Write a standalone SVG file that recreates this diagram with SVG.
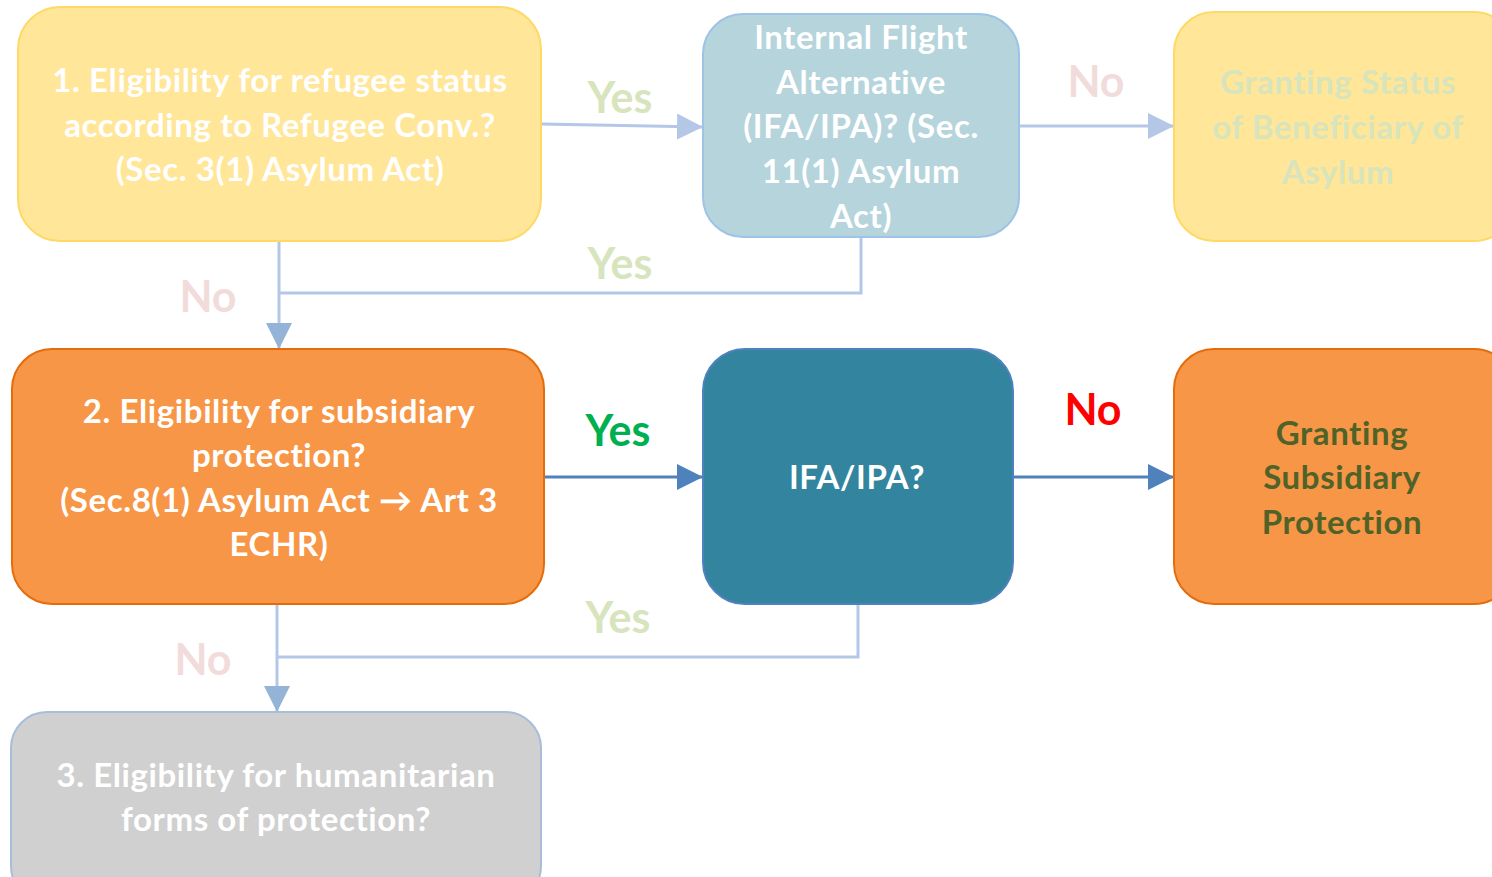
<svg xmlns="http://www.w3.org/2000/svg" width="1492" height="877" viewBox="0 0 1492 877">
<defs>
<marker id="ap" markerUnits="userSpaceOnUse" markerWidth="28" markerHeight="28" refX="26" refY="13" orient="auto"><path d="M0,0 L26,13 L0,26 Z" fill="#B4C7E7"/></marker>
<marker id="ap2" markerUnits="userSpaceOnUse" markerWidth="28" markerHeight="28" refX="26" refY="13" orient="auto"><path d="M0,0 L26,13 L0,26 Z" fill="#95B3D7"/></marker>
<marker id="ad" markerUnits="userSpaceOnUse" markerWidth="28" markerHeight="28" refX="26" refY="13" orient="auto"><path d="M0,0 L26,13 L0,26 Z" fill="#4F81BD"/></marker>
</defs>
<style>
text{font-family:Lato,"Open Sans","DejaVu Sans",sans-serif;font-weight:bold;text-anchor:middle}
.bt{font-size:33px;fill:#fff;letter-spacing:0.6px}
.lbl{font-size:43px}
.pale{stroke:#B4C7E7;stroke-width:3;fill:none}
.dark{stroke:#4F81BD;stroke-width:3;fill:none}
</style>
<rect width="1492" height="877" fill="#fff"/>
<g id="connectors">
<path class="pale" d="M541,124 L703,127" marker-end="url(#ap)"/>
<path class="pale" d="M1019,126 L1174,126" marker-end="url(#ap)"/>
<path class="pale" d="M279,241 L279,349" marker-end="url(#ap2)"/>
<path class="pale" d="M861,237 L861,293 L279,293"/>
<path class="dark" d="M544,477 L703,477" marker-end="url(#ad)"/>
<path class="dark" d="M1013,477 L1174,477" marker-end="url(#ad)"/>
<path class="pale" d="M277,604 L277,712" marker-end="url(#ap2)"/>
<path class="pale" d="M858,604 L858,657 L277,657"/>
<text class="lbl" x="620" y="113" fill="#D7E4BD">Yes</text>
<text class="lbl" x="1096" y="97" fill="#F2DCDB">No</text>
<text class="lbl" x="620" y="279" fill="#D7E4BD">Yes</text>
<text class="lbl" x="208" y="312" fill="#F2DCDB">No</text>
<text class="lbl" x="618" y="446" fill="#00B050">Yes</text>
<text class="lbl" x="1093" y="425" fill="#FF0000">No</text>
<text class="lbl" x="618" y="633" fill="#D7E4BD">Yes</text>
<text class="lbl" x="203" y="675" fill="#F2DCDB">No</text>
</g>
<g id="n1">
<rect x="18" y="7" width="523" height="234" rx="42" fill="#FFE699" stroke="#FFD966" stroke-width="2"/>
<text class="bt" x="280" y="92">1. Eligibility for refugee status</text>
<text class="bt" x="280" y="137">according to Refugee Conv.?</text>
<text class="bt" x="280" y="181">(Sec. 3(1) Asylum Act)</text>
</g>
<g id="n2">
<rect x="703" y="14" width="316" height="223" rx="40" fill="#B5D4DC" stroke="#9DC3E6" stroke-width="2"/>
<text class="bt" x="861" y="49">Internal Flight</text>
<text class="bt" x="861" y="94">Alternative</text>
<text class="bt" x="861" y="138">(IFA/IPA)? (Sec.</text>
<text class="bt" x="861" y="183">11(1) Asylum</text>
<text class="bt" x="861" y="228">Act)</text>
</g>
<g id="n3">
<rect x="1174" y="12" width="340" height="229" rx="40" fill="#FFE699" stroke="#FFD966" stroke-width="2"/>
<text class="bt" x="1338" y="94" style="fill:#D7E4BC">Granting Status</text>
<text class="bt" x="1338" y="139" style="fill:#D7E4BC">of Beneficiary of</text>
<text class="bt" x="1338" y="184" style="fill:#D7E4BC">Asylum</text>
</g>
<g id="n4">
<rect x="12" y="349" width="532" height="255" rx="40" fill="#F79646" stroke="#E46C0A" stroke-width="2"/>
<text class="bt" x="279" y="423">2. Eligibility for subsidiary</text>
<text class="bt" x="279" y="467">protection?</text>
<text class="bt" x="279" y="512">(Sec.8(1) Asylum Act → Art 3</text>
<text class="bt" x="279" y="556">ECHR)</text>
</g>
<g id="n5">
<rect x="703" y="349" width="310" height="255" rx="42" fill="#33849E" stroke="#4F81BD" stroke-width="2"/>
<text class="bt" x="857" y="489">IFA/IPA?</text>
</g>
<g id="n6">
<rect x="1174" y="349" width="340" height="255" rx="40" fill="#F79646" stroke="#E46C0A" stroke-width="2"/>
<text class="bt" x="1342" y="445" style="fill:#4F6228">Granting</text>
<text class="bt" x="1342" y="489" style="fill:#4F6228">Subsidiary</text>
<text class="bt" x="1342" y="534" style="fill:#4F6228">Protection</text>
</g>
<g id="n7">
<rect x="11" y="712" width="530" height="190" rx="36" fill="#D0D0D0" stroke="#A6BEDC" stroke-width="2"/>
<text class="bt" x="276" y="787">3. Eligibility for humanitarian</text>
<text class="bt" x="276" y="831">forms of protection?</text>
</g>
</svg>
